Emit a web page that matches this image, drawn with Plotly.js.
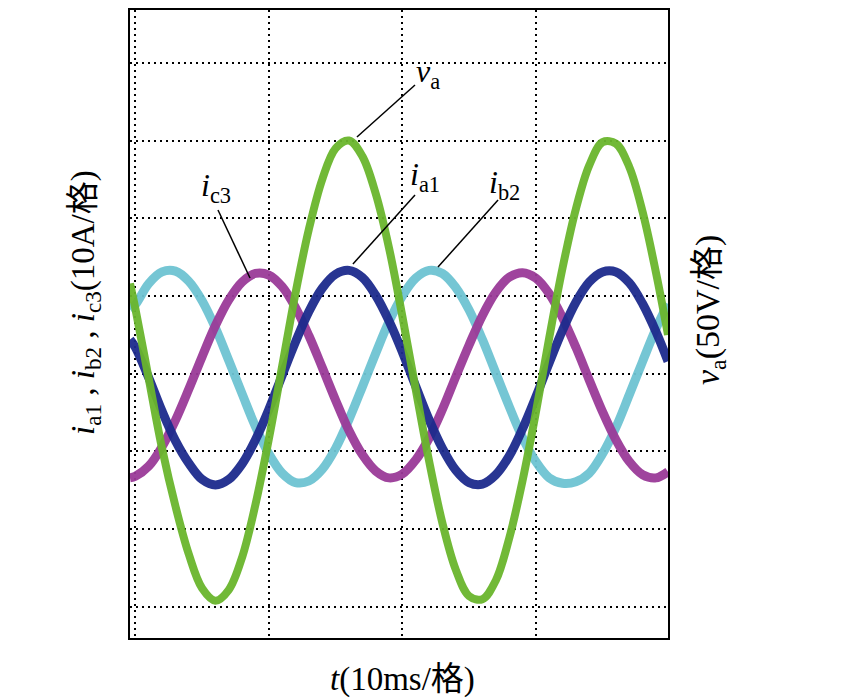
<!DOCTYPE html>
<html>
<head>
<meta charset="utf-8">
<script src="https://cdn.plot.ly/plotly-3.0.1.min.js"></script>
<style>html,body{margin:0;padding:0;background:#fff;}#chart{width:860px;height:700px;}</style>
</head>
<body>
<div id="chart"></div>
<script>
// time in ms (10 ms per division)
const timeMs = [-0.4, 0, 1, 2, 3, 4, 5, 6, 7, 8, 9, 10, 11, 12, 13, 14, 15, 16, 17, 18, 19,
  20, 21, 22, 23, 24, 25, 26, 27, 28, 29, 30, 31, 32, 33, 34, 35, 36, 37, 38, 39, 39.9];
// phase voltage v_a in V (50 V per division)
const va = [58, 42, -3, -48, -85, -116, -138, -146, -139, -118, -84, -42, 5, 52, 93, 125, 145, 150, 140, 116, 81,
  37, -10, -56, -96, -126, -143, -145, -133, -106, -69, -25, 23, 68, 106, 134, 149, 148, 133, 104, 65, 25];
// currents in A (10 A per division)
const ia1 = [4.4, 3.4, -0.5, -4.8, -8.6, -11.5, -13.6, -14.3, -13.6, -11.6, -8.5, -4.6, -0.2, 4.1, 8.0, 11.0, 12.8, 13.3, 12.4, 10.1, 6.8,
  2.8, -1.6, -5.9, -9.6, -12.4, -14.0, -14.2, -13.0, -10.6, -7.1, -3.0, 1.4, 5.6, 9.2, 11.8, 13.1, 13.1, 11.7, 9.0, 5.4, 1.6];
const ib2 = [8.3, 8.9, 11.6, 13.1, 13.2, 11.9, 9.4, 5.9, 1.7, -2.6, -6.8, -10.3, -12.8, -14.0, -13.8, -12.3, -9.6, -5.9, -1.7, 2.6, 6.7,
  10.0, 12.3, 13.3, 12.9, 11.1, 8.2, 4.4, 0.1, -4.2, -8.2, -11.3, -13.4, -14.1, -13.9, -12.8, -10.3, -6.9, -2.7, 1.6, 5.8, 9.0];
const ic3 = [-13.4, -13.2, -11.9, -9.4, -6.0, -2.0, 2.2, 6.2, 9.5, 11.8, 12.9, 12.7, 11.2, 8.5, 4.9, 0.8, -3.4, -7.3, -10.4, -12.5, -13.4,
  -12.9, -11.1, -8.3, -4.6, -0.4, 3.7, 7.5, 10.5, 12.4, 13.0, 12.3, 10.3, 7.2, 3.4, -0.8, -4.9, -8.5, -11.3, -13.0, -13.4, -12.6];

const FONT = "'Liberation Serif', 'Times New Roman', 'Noto Sans CJK SC', serif";

function sub(s) { return '<sub>' + s + '</sub>'; }

const traces = [
  {x: timeMs, y: ib2, yaxis: 'y', mode: 'lines', line: {color: '#6ec3d2', width: 9, shape: 'spline', smoothing: 1}, opacity: 0.95, hoverinfo: 'skip'},
  {x: timeMs, y: ic3, yaxis: 'y', mode: 'lines', line: {color: '#9a3a98', width: 9, shape: 'spline', smoothing: 1}, opacity: 0.95, hoverinfo: 'skip'},
  {x: timeMs, y: ia1, yaxis: 'y', mode: 'lines', line: {color: '#1c2a8c', width: 9, shape: 'spline', smoothing: 1}, opacity: 0.95, hoverinfo: 'skip'},
  {x: timeMs, y: va, yaxis: 'y2', mode: 'lines', line: {color: '#69b52c', width: 8, shape: 'spline', smoothing: 1}, opacity: 0.95, hoverinfo: 'skip'}
];

function lead(x0, y0, x1, y1) {
  return {type: 'line', xref: 'x', yref: 'y', x0: x0, y0: y0, x1: x1, y1: y1, line: {color: '#000', width: 1.5}};
}
function lab(txt, px, py) {
  return {xref: 'paper', yref: 'paper', x: (px - 130) / 538, y: (638 - py) / 628, xanchor: 'left', yanchor: 'middle',
    text: txt, showarrow: false, font: {family: FONT, size: 32, color: '#000'}};
}

const layout = {
  width: 860, height: 700,
  margin: {l: 130, r: 192, t: 10, b: 62},
  paper_bgcolor: '#fff', plot_bgcolor: '#fff',
  showlegend: false,
  xaxis: {range: [-0.4, 39.9], dtick: 10, tick0: 0, showticklabels: false, ticks: '', zeroline: false,
    showgrid: true, gridcolor: '#000', gridwidth: 2, griddash: '2px,4px',
    showline: true, mirror: true, linecolor: '#000', linewidth: 2},
  yaxis: {range: [-34.0, 46.8], dtick: 10, tick0: 0, showticklabels: false, ticks: '', zeroline: false,
    showgrid: true, gridcolor: '#000', gridwidth: 2, griddash: '2px,4px',
    showline: true, mirror: true, linecolor: '#000', linewidth: 2},
  yaxis2: {range: [-170, 234], overlaying: 'y', side: 'right', visible: false, showgrid: false, zeroline: false},
  shapes: [
    lead(20.95, 37.15, 16.60, 30.46),
    lead(20.95, 22.99, 16.30, 14.12),
    lead(27.17, 22.35, 22.67, 13.73),
    lead(6.19, 21.07, 8.59, 12.32)
  ],
  annotations: [
    lab('<i>v</i>' + sub('a'), 414, 74),
    lab('<i>i</i>' + sub('a1'), 408, 176),
    lab('<i>i</i>' + sub('b2'), 487, 184),
    lab('<i>i</i>' + sub('c3'), 199, 187),
    {xref: 'paper', yref: 'paper', x: (402 - 130) / 538, y: (638 - 679) / 628, xanchor: 'center', yanchor: 'middle',
      text: '<i>t</i>(10ms/格)', showarrow: false, font: {family: FONT, size: 33, color: '#000'}},
    {xref: 'paper', yref: 'paper', x: (86 - 130) / 538, y: (638 - 303) / 628, xanchor: 'center', yanchor: 'middle',
      textangle: -90, text: '<i>i</i>' + sub('a1') + ' , <i>i</i>' + sub('b2') + ' , <i>i</i>' + sub('c3') + '(10A/格)', showarrow: false,
      font: {family: FONT, size: 33, color: '#000'}},
    {xref: 'paper', yref: 'paper', x: (710 - 130) / 538, y: (638 - 310) / 628, xanchor: 'center', yanchor: 'middle',
      textangle: -90, text: '<i>v</i>' + sub('a') + '(50V/格)', showarrow: false,
      font: {family: FONT, size: 34, color: '#000'}}
  ]
};

Plotly.newPlot('chart', traces, layout, {displayModeBar: false, staticPlot: true});
</script>
</body>
</html>
